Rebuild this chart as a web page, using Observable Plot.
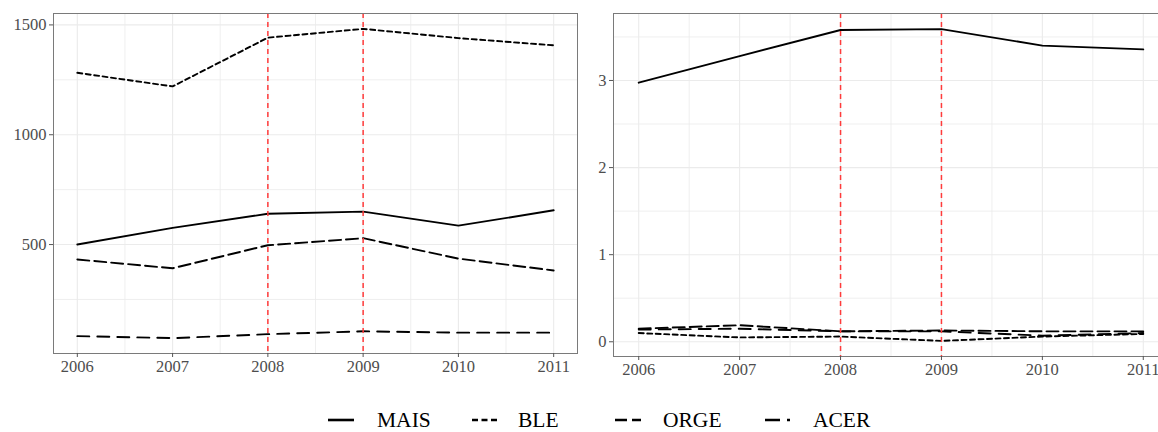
<!DOCTYPE html>
<html>
<head>
<meta charset="utf-8">
<script src="https://cdn.jsdelivr.net/npm/d3@7"></script>
<script src="https://cdn.jsdelivr.net/npm/@observablehq/plot@0.6"></script>
<style>
  html, body { margin: 0; padding: 0; background: #fff; overflow: hidden; }
  #wrap { position: relative; width: 1158px; height: 432px; overflow: hidden; }
  #left { position: absolute; left: 0; top: 0; width: 580px; }
  #right { position: absolute; left: 580px; top: 0; width: 590px; }
  #legend { position: absolute; left: 0; top: 398px; width: 1158px; height: 34px; }
  #wrap svg { max-width: none !important; }
</style>
</head>
<body>
<div id="wrap">
  <div id="left"></div>
  <div id="right"></div>
  <div id="legend"></div>
</div>
<script>
// ---- data ----
const years = [2006, 2007, 2008, 2009, 2010, 2011];
const crops = ["MAIS", "BLE", "ORGE", "ACER"];
const markedYears = [2008, 2009];

// left panel
const maisA = [500, 576, 640, 650, 586, 656];
const bleA  = [1282, 1220, 1442, 1482, 1440, 1407];
const orgeA = [432, 392, 497, 529, 436, 382];
const acerA = [83, 74, 92, 105, 99, 99];
const leftYTicks = [500, 1000, 1500];

// right panel
const maisB = [2.975, 3.28, 3.58, 3.59, 3.40, 3.357];
const bleB  = [0.10, 0.05, 0.06, 0.01, 0.06, 0.09];
const orgeB = [0.15, 0.19, 0.12, 0.13, 0.12, 0.12];
const acerB = [0.14, 0.15, 0.12, 0.12, 0.07, 0.10];
const rightYTicks = [0, 1, 2, 3];

// ---- styles ----
const dash = {MAIS: null, BLE: "5,3.5", ORGE: "12,5", ACER: "12,8"};
const gridColor = "#ebebeb";
const textColor = "#4d4d4d";

function mids(t) { const m = []; for (let i = 0; i < t.length - 1; i++) m.push((t[i] + t[i+1]) / 2); return m; }

function panel(series, yTicks, yDomain, opts) {
  const rows = (vals) => years.map((y, i) => ({year: y, value: vals[i]}));
  const xMinor = mids(years);
  const step = yTicks[1] - yTicks[0];
  const yMinor = mids([yTicks[0] - step, ...yTicks, yTicks[yTicks.length - 1] + step])
    .filter(v => v > yDomain[0] && v < yDomain[1]);
  const marks = [
    Plot.ruleX(xMinor, {stroke: gridColor, strokeWidth: 0.8}),
    Plot.ruleY(yMinor, {stroke: gridColor, strokeWidth: 0.8}),
    Plot.ruleX(years, {stroke: gridColor, strokeWidth: 1.1}),
    Plot.ruleY(yTicks, {stroke: gridColor, strokeWidth: 1.1}),
  ];
  crops.forEach((c, k) => {
    const o = {x: "year", y: "value", stroke: "#000", strokeWidth: 1.9};
    if (dash[c]) o.strokeDasharray = dash[c];
    marks.push(Plot.line(rows(series[k]), o));
  });
  marks.push(Plot.ruleX(markedYears, {stroke: "#ff3b3b", strokeWidth: 1.5, strokeDasharray: "5,4"}));
  marks.push(Plot.frame({stroke: "#7a7a7a", strokeWidth: 1}));
  marks.push(Plot.axisX({ticks: years, tickFormat: d => String(d), tickSize: 4, tickPadding: 3, label: null, stroke: "#555"}));
  marks.push(Plot.axisY({ticks: yTicks, tickFormat: d => String(d), tickSize: 4, tickPadding: 3, label: null, stroke: "#555"}));
  return Plot.plot({
    width: opts.width, height: 390,
    marginLeft: opts.marginLeft, marginRight: opts.marginRight,
    marginTop: 13, marginBottom: opts.marginBottom,
    x: {domain: [2005.75, 2011.25]},
    y: {domain: yDomain},
    style: {fontFamily: "'Liberation Serif', serif", fontSize: "16.5px", color: textColor, background: "transparent", overflow: "visible", maxWidth: "none"},
    marks
  });
}

document.getElementById("left").appendChild(
  panel([maisA, bleA, orgeA, acerA], leftYTicks, [4, 1552], {width: 580, marginLeft: 53, marginRight: 3, marginBottom: 37})
);
document.getElementById("right").appendChild(
  panel([maisB, bleB, orgeB, acerB], rightYTicks, [-0.169, 3.769], {width: 590, marginLeft: 33, marginRight: 2, marginBottom: 34})
);

// ---- legend ----
const keyX = [328, 472, 615, 765];
const textX = [377, 518, 663, 813];
const keyDash = {MAIS: null, BLE: "6,3.5", ORGE: "12,5", ACER: "15,7,3,30"};
const svg = d3.select("#legend").append("svg").attr("width", 1158).attr("height", 34);
crops.forEach((c, k) => {
  const l = svg.append("line").attr("x1", keyX[k]).attr("x2", keyX[k] + 26)
    .attr("y1", 22).attr("y2", 22).attr("stroke", "#000").attr("stroke-width", 2.6);
  if (keyDash[c]) l.attr("stroke-dasharray", keyDash[c]);
  svg.append("text").attr("x", textX[k]).attr("y", 29)
    .attr("font-family", "'Liberation Serif', serif").attr("font-size", 21.5)
    .attr("fill", "#000").text(c);
});
</script>
</body>
</html>
